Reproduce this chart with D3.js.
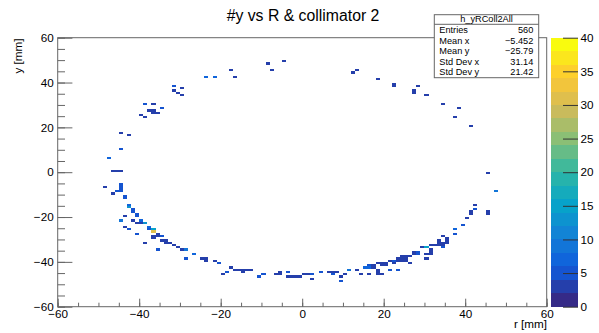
<!DOCTYPE html>
<meta charset="utf-8">
<style>
body { margin: 0; background: #fff; }
svg { font-family: "Liberation Sans", Arial, Helvetica, sans-serif; background: #fff; }
.axis text { font-size: 11.7px; fill: #000; }
.axis path { display: none; }
.bin { shape-rendering: crispEdges; }
</style>
<body>
<div id="chart"></div>
<script src="https://d3js.org/d3.v7.min.js"></script>
<script>
// bins are 1 mm x 1 mm: [x low edge, y low edge, entries]
var upperArc = [
  [-40,25,3],[-39,24,3],[-39,30,5],[-37,30,3],[-35,28,5],[-38,27,3],[-37,27,3],[-37,26,3],[-36,26,3],
  [-32,38,5],[-30,37,3],[-32,36,3],[-31,35,3],[-30,34,3],
  [-24,42,6],[-22,42,6],[-18,45,3],[-17,42,3],[-9,48,3],[-8,45,3],[-5,49,3],
  [12,44,3],[13,45,3],[18,41,3],[22,38,3],[22,39,3],[28,38,3],[27,35,3],[27,36,3],[30,34,3],
  [34,30,3],[38,28,3],[37,24,3],[41,20,3]
];
var leftArc = [
  [-45,17,3],[-43,16,3],[-45,10,5],[-48,6,7],[-47,0,3],[-46,0,3],[-45,0,3],
  [-49,-7,3],[-45,-6,5],[-45,-7,5],[-45,-8,5],[-46,-9,4],[-45,-9,4],[-47,-10,3],
  [-44,-11,5],[-44,-12,5],[-43,-15,6],[-43,-16,12]
];
var lowerLeftArc = [
  [-42,-17,5],[-42,-18,5],[-41,-19,5],[-41,-20,5],[-44,-20,3],[-45,-22,8],[-42,-22,3],
  [-41,-23,3],[-40,-23,3],[-40,-22,6],[-39,-23,12],[-44,-25,3],[-43,-26,5],[-38,-25,6],
  [-38,-26,5],[-37,-26,15],[-37,-27,30],[-41,-28,5],[-36,-28,3],[-37,-29,3],[-37,-30,3],
  [-36,-29,3],[-35,-29,5],[-35,-31,3],[-34,-31,3],[-34,-32,3],[-33,-32,3],[-32,-33,3],
  [-31,-34,3],[-30,-35,3],[-29,-35,8],[-39,-32,3],[-36,-35,5],[-29,-39,5],[-27,-37,6],[-25,-39,3]
];
var bottomArc = [
  [-24,-39,3],[-24,-40,3],[-22,-40,3],[-21,-41,5],[-20,-46,3],[-19,-45,5],[-18,-43,3],
  [-17,-44,3],[-16,-44,3],[-15,-44,3],[-14,-44,3],[-13,-44,3],[-15,-45,3],[-11,-47,5],
  [-10,-46,5],[-7,-46,3],[-6,-46,3],[-6,-45,3],[-4,-45,5],[-4,-47,3],[-3,-47,3],[-2,-47,3],
  [-1,-47,3],[0,-46,3],[1,-46,3],[2,-46,4],[2,-48,3],[4,-45,5],[6,-45,3],[7,-45,3],[8,-45,3],
  [7,-46,5],[9,-47,3],[9,-49,4]
];
var lowerRightArc = [
  [10,-46,3],[11,-44,8],[13,-44,3],[14,-46,3],[15,-43,6],[16,-43,6],[16,-42,5],[16,-46,3],
  [17,-42,3],[17,-43,3],[18,-41,3],[19,-41,3],[18,-44,3],[18,-45,3],[18,-46,3],[19,-46,3],
  [19,-42,3],[20,-42,3],[20,-41,3],[21,-40,3],[21,-44,5],[22,-40,5],[22,-41,3],[23,-39,3],
  [23,-40,3],[23,-44,5],[24,-38,3],[24,-39,3],[24,-40,3],[25,-38,3],[25,-39,3],[25,-40,3],
  [26,-38,3],[26,-41,3],[27,-37,3],[27,-36,3],[28,-36,4],[28,-37,4],[29,-34,3],[30,-34,14],
  [30,-37,3],[30,-39,3],[31,-35,3],[31,-36,3],[31,-37,3],[31,-33,3],[32,-33,3],[33,-33,3],
  [33,-32,3],[33,-31,3],[34,-32,3],[34,-33,3],[34,-34,5],[34,-29,3],[35,-30,3],[35,-31,3],[35,-32,3]
];
var rightArc = [
  [45,-1,3],[47,-9,8],[42,-15,3],[42,-17,4],[41,-18,3],[41,-19,3],[45,-18,3],[45,-19,3],
  [40,-21,3],[39,-24,4],[37,-26,6],[37,-28,4]
];

var xMajor = [-60,-40,-20,0,20,40,60];
var yMajor = [-60,-40,-20,0,20,40,60];
var zMajor = [0,5,10,15,20,25,30,35,40];
var statsTitle = "h_yRColl2All";
var statsNames = ["Entries","Mean x","Mean y","Std Dev x","Std Dev y"];
var statsValues = ["560","\u22125.452","\u221225.79","31.14","21.42"];
var title = "#y vs R & collimator 2";

// ROOT kBird palette, 20 contour levels 0..40
var birdStops = [0,0.125,0.25,0.375,0.5,0.625,0.75,0.875,1];
var birdR = [0.2082,0.0592,0.0780,0.0232,0.1802,0.5301,0.8186,0.9956,0.9764];
var birdG = [0.1664,0.3599,0.5041,0.6419,0.7178,0.7492,0.7328,0.7862,0.9832];
var birdB = [0.5293,0.8684,0.8385,0.7914,0.6425,0.4662,0.3499,0.1968,0.0539];
var nLevels = 20, zMax = 40;
var lineCol = "#666";

function bird(t) {
  var r = d3.scaleLinear().domain(birdStops).range(birdR)(t),
      g = d3.scaleLinear().domain(birdStops).range(birdG)(t),
      b = d3.scaleLinear().domain(birdStops).range(birdB)(t);
  return d3.rgb(r*255, g*255, b*255).toString();
}
function levelColor(v) {
  var k = Math.min(nLevels-1, Math.floor(v / (zMax/nLevels)));
  return bird(k/(nLevels-1));
}
function minus(d) { return d < 0 ? "\u2212" + (-d) : d; }

var W = 599, H = 333,
    fx0 = 57.7, fx1 = 546.7, fy0 = 37.7, fy1 = 306.7;

var svg = d3.select("#chart").append("svg")
  .attr("width", W).attr("height", H);

var x = d3.scaleLinear().domain([-60,60]).range([fx0,fx1]);
var y = d3.scaleLinear().domain([-60,60]).range([fy1,fy0]);
var z = d3.scaleLinear().domain([0,zMax]).range([fy1,fy0]);

var bins = [].concat(upperArc, leftArc, lowerLeftArc, bottomArc, lowerRightArc, rightArc);

svg.append("g").selectAll("rect")
  .data(bins)
  .enter().append("rect")
  .attr("class", "bin")
  .attr("x", function(d) { return x(d[0]); })
  .attr("y", function(d) { return y(d[1]+1); })
  .attr("width", function(d) { return x(d[0]+1) - x(d[0]); })
  .attr("height", function(d) { return y(d[1]) - y(d[1]+1); })
  .attr("fill", function(d) { return levelColor(d[2]); });

// frame
svg.append("rect")
  .attr("x", fx0).attr("y", fy0)
  .attr("width", fx1-fx0).attr("height", fy1-fy0)
  .attr("fill", "none").attr("stroke", lineCol).attr("stroke-width", 1);

// x axis
svg.append("g").attr("class", "axis")
  .attr("transform", "translate(0," + fy1 + ")")
  .call(d3.axisBottom(x).tickValues(d3.range(-60,61,5)).tickSize(-4).tickFormat(""));
svg.append("g").attr("class", "axis")
  .attr("transform", "translate(0," + fy1 + ")")
  .call(d3.axisBottom(x).tickValues(xMajor).tickSize(-8).tickPadding(3.5).tickFormat(minus));

// y axis
svg.append("g").attr("class", "axis")
  .attr("transform", "translate(" + fx0 + ",0)")
  .call(d3.axisLeft(y).tickValues(d3.range(-60,61,5)).tickSize(-7.3).tickFormat(""));
svg.append("g").attr("class", "axis")
  .attr("transform", "translate(" + fx0 + ",0)")
  .call(d3.axisLeft(y).tickValues(yMajor).tickSize(-14.7).tickPadding(4).tickFormat(minus));

// colour palette
var px0 = 551, px1 = 578;
svg.append("g").selectAll("rect")
  .data(d3.range(nLevels))
  .enter().append("rect")
  .attr("class", "bin")
  .attr("x", px0)
  .attr("y", function(k) { return z((k+1)*zMax/nLevels); })
  .attr("width", px1 - px0)
  .attr("height", function(k) { return z(k*zMax/nLevels) - z((k+1)*zMax/nLevels); })
  .attr("fill", function(k) { return bird(k/(nLevels-1)); });

var zAxis = svg.append("g").attr("class", "axis zaxis")
  .attr("transform", "translate(" + px1 + ",0)")
  .call(d3.axisRight(z).tickValues(zMajor).tickSize(-15).tickPadding(2.5));
svg.selectAll(".axis line").attr("stroke", lineCol);
zAxis.selectAll("line").attr("stroke", "#333");

// titles
svg.append("text")
  .attr("x", 303).attr("y", 20.5)
  .attr("text-anchor", "middle")
  .style("font-size", "15.8px")
  .text(title);

svg.append("text")
  .attr("transform", "translate(22,38.5) rotate(-90)")
  .attr("text-anchor", "end")
  .style("font-size", "11.7px")
  .text("y [mm]");

svg.append("text")
  .attr("x", 547).attr("y", 327.5)
  .attr("text-anchor", "end")
  .style("font-size", "11.7px")
  .text("r [mm]");

// stats box
var sx0 = 434.3, sx1 = 538.7, sy0 = 14.7, sy1 = 77.7;
var stats = svg.append("g");
stats.append("rect")
  .attr("x", sx0).attr("y", sy0)
  .attr("width", sx1-sx0).attr("height", sy1-sy0)
  .attr("fill", "#fff").attr("stroke", lineCol).attr("stroke-width", 1);
stats.append("line")
  .attr("x1", sx0).attr("x2", sx1).attr("y1", 24.3).attr("y2", 24.3)
  .attr("stroke", lineCol);
stats.append("text")
  .attr("x", (sx0+sx1)/2).attr("y", 22.3)
  .attr("text-anchor", "middle")
  .style("font-size", "9.2px")
  .text(statsTitle);
stats.selectAll(".sname")
  .data(statsNames)
  .enter().append("text")
  .attr("x", 439.3)
  .attr("y", function(d, i) { return 33.3 + i*10.4; })
  .style("font-size", "9.2px")
  .text(function(d) { return d; });
stats.selectAll(".sval")
  .data(statsValues)
  .enter().append("text")
  .attr("x", 533.3)
  .attr("y", function(d, i) { return 33.3 + i*10.4; })
  .attr("text-anchor", "end")
  .style("font-size", "9.2px")
  .text(function(d) { return d; });
</script>
